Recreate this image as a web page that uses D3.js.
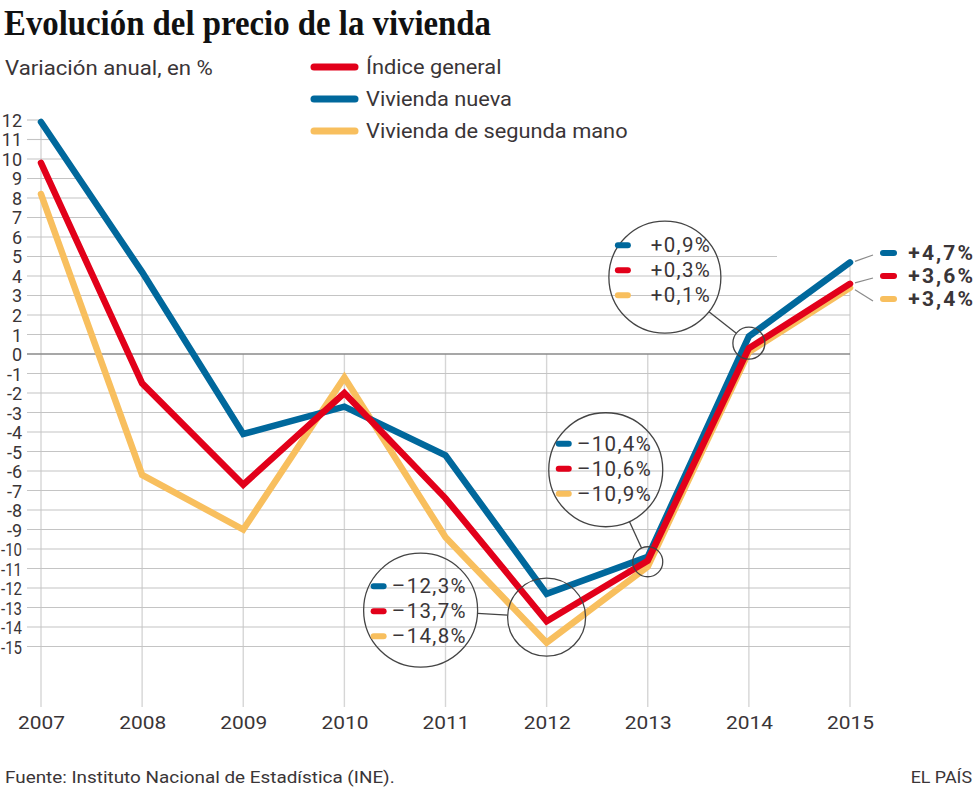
<!DOCTYPE html>
<html><head><meta charset="utf-8">
<script src="https://cdn.jsdelivr.net/npm/d3@7"></script>
<style>
html,body{margin:0;padding:0;background:#fff;}
svg{display:block;font-family:Roboto,"Noto Sans",sans-serif;}
</style></head>
<body>
<svg id="chart" width="980" height="795"></svg>
<script>
// ---------- DATA ----------
const years = [2007, 2008, 2009, 2010, 2011, 2012, 2013, 2014, 2015];
const indiceGeneral = [9.8, -1.5, -6.7, -2.0, -7.4, -13.7, -10.6, 0.3, 3.6];
const viviendaNueva = [11.9, 4.2, -4.1, -2.7, -5.2, -12.3, -10.4, 0.9, 4.7];
const segundaMano = [8.2, -6.2, -9.0, -1.2, -9.4, -14.8, -10.9, 0.1, 3.4];
const seriesNames = ["Índice general", "Vivienda nueva", "Vivienda de segunda mano"];
const yTickValues = [12, 11, 10, 9, 8, 7, 6, 5, 4, 3, 2, 1, 0, -1, -2, -3, -4, -5, -6, -7, -8, -9, -10, -11, -12, -13, -14, -15];
const calloutYears = [2012, 2013, 2014];
const calloutNueva = ["–12,3%", "–10,4%", "+0,9%"];
const calloutIndice = ["–13,7%", "–10,6%", "+0,3%"];
const calloutSegunda = ["–14,8%", "–10,9%", "+0,1%"];
const endLabels = ["+4,7%", "+3,6%", "+3,4%"];
const titleText = "Evolución del precio de la vivienda";
const subtitleText = "Variación anual, en %";
const sourceText = "Fuente: Instituto Nacional de Estadística (INE).";
const brandText = "EL PAÍS";

// ---------- STYLE ----------
const C = {blue: "#00689c", red: "#e2001a", yellow: "#f8bf5e", text: "#3a3537", grid: "#c4c4c4", vgrid: "#d6d6d6", zero: "#8a8a8a"};
const svg = d3.select("#chart");

const x = d3.scalePoint().domain(years).range([41, 850]);
const y = d3.scaleLinear().domain([-18.1, 12]).range([707, 120]);

function fit(sel, w) { sel.attr("textLength", w).attr("lengthAdjust", "spacingAndGlyphs"); return sel; }
function stretch(sel, k, maxW, mode) {
  sel.each(function () {
    let w = this.getComputedTextLength() * k;
    if (maxW && w > maxW) w = maxW;
    d3.select(this).attr("textLength", w).attr("lengthAdjust", mode || "spacingAndGlyphs");
  });
  return sel;
}

// title / subtitle
fit(svg.append("text").attr("x", 4).attr("y", 35).text(titleText)
  .attr("font-family", "'Liberation Serif', 'DejaVu Serif', serif").attr("font-weight", "bold")
  .attr("font-size", 35).attr("fill", "#111"), 487);
stretch(svg.append("text").attr("x", 5).attr("y", 75).text(subtitleText)
  .attr("font-size", 20).attr("fill", C.text), 1.11);

// legend
const legendSeries = [
  {name: seriesNames[0], color: C.red},
  {name: seriesNames[1], color: C.blue},
  {name: seriesNames[2], color: C.yellow}
];
const lg = svg.append("g");
legendSeries.forEach((s, i) => {
  const cy = 67 + i * 32;
  lg.append("line").attr("x1", 314).attr("x2", 355).attr("y1", cy).attr("y2", cy)
    .attr("stroke", s.color).attr("stroke-width", 7).attr("stroke-linecap", "round");
  stretch(lg.append("text").attr("x", 366).attr("y", cy + 7).text(s.name)
    .attr("font-size", 20).attr("fill", C.text), 1.09);
});

// ---------- GRID ----------
const grid = svg.append("g");
function blueCrossX(v) {
  const b0 = viviendaNueva[0], b1 = viviendaNueva[1];
  const x0 = x(years[0]), x1 = x(years[1]);
  return Math.max(27, x0 + (v - b0) / (b1 - b0) * (x1 - x0));
}
years.forEach((yr, i) => {
  let top;
  if (i === 0 || i === 1 || i === years.length - 1) top = y(viviendaNueva[i]);
  else top = y(0);
  grid.append("line").attr("x1", x(yr)).attr("x2", x(yr)).attr("y1", top).attr("y2", 707)
    .attr("stroke", C.vgrid).attr("stroke-width", 1.4);
});
yTickValues.forEach(v => {
  let x2 = 850;
  if (v >= 6) x2 = blueCrossX(v);
  else if (v === 5) x2 = 777;
  grid.append("line").attr("x1", 27).attr("x2", x2).attr("y1", y(v)).attr("y2", y(v))
    .attr("stroke", v === 0 ? C.zero : C.grid).attr("stroke-width", v === 0 ? 1.3 : 1.1);
});

// y axis labels
const yAxis = d3.axisLeft(y).tickValues(yTickValues).tickSize(0).tickPadding(0)
  .tickFormat(d => String(d));
svg.append("g").attr("transform", "translate(22,0)").call(yAxis)
  .call(g => g.select(".domain").remove())
  .call(g => g.selectAll("text").attr("font-size", 18).attr("fill", C.text)
    .attr("font-family", "Roboto, sans-serif").attr("dy", "0.36em"))
  .call(g => stretch(g.selectAll("text"), 1.0, 21));

// x axis labels
const xAxis = d3.axisBottom(x).tickSize(0).tickPadding(0).tickFormat(d => String(d));
svg.append("g").attr("transform", "translate(0,715)").call(xAxis)
  .call(g => g.select(".domain").remove())
  .call(g => g.selectAll("text").attr("font-size", 19).attr("fill", C.text)
    .attr("font-family", "Roboto, sans-serif").attr("dy", "0.71em"))
  .call(g => stretch(g.selectAll("text"), 1.1));

// ---------- LINES ----------
const line = d3.line().x((d, i) => x(years[i])).y(d => y(d));
const drawOrder = [
  {vals: segundaMano, color: C.yellow},
  {vals: viviendaNueva, color: C.blue},
  {vals: indiceGeneral, color: C.red}
];
drawOrder.forEach(s => {
  svg.append("path").datum(s.vals).attr("d", line).attr("fill", "none")
    .attr("stroke", s.color).attr("stroke-width", 6.5)
    .attr("stroke-linejoin", "miter").attr("stroke-linecap", "round");
});

// ---------- CALLOUTS ----------
const calloutGeom = [
  {sdy: -4, sr: 39, bdx: -126, bdy: -7, br: 57, rowDy: 1},
  {sdy: 1,  sr: 15, bdx: -42,  bdy: -92, br: 57, rowDy: -1},
  {sdy: -5, sr: 16, bdx: -84,  bdy: -66, br: 56, rowDy: -7}
];
const cg = svg.append("g");
calloutYears.forEach((yr, k) => {
  const i = years.indexOf(yr);
  const g = calloutGeom[k];
  const sx = x(yr), sy = y(indiceGeneral[i]) + g.sdy;
  const bx = sx + g.bdx, by = sy + g.bdy;
  const dx = sx - bx, dy = sy - by, L = Math.hypot(dx, dy), ux = dx / L, uy = dy / L;
  cg.append("circle").attr("cx", sx).attr("cy", sy).attr("r", g.sr)
    .attr("fill", "none").attr("stroke", "#444").attr("stroke-width", 1.3);
  cg.append("circle").attr("cx", bx).attr("cy", by).attr("r", g.br)
    .attr("fill", "none").attr("stroke", "#444").attr("stroke-width", 1.3);
  cg.append("line").attr("x1", bx + ux * g.br).attr("y1", by + uy * g.br)
    .attr("x2", sx - ux * g.sr).attr("y2", sy - uy * g.sr)
    .attr("stroke", "#444").attr("stroke-width", 1.3);
  const rows = [
    {t: calloutNueva[k], c: C.blue},
    {t: calloutIndice[k], c: C.red},
    {t: calloutSegunda[k], c: C.yellow}
  ];
  rows.forEach((r, j) => {
    const ry = by + g.rowDy + (j - 1) * 25;
    cg.append("line").attr("x1", bx - 47).attr("x2", bx - 37).attr("y1", ry).attr("y2", ry)
      .attr("stroke", r.c).attr("stroke-width", 6).attr("stroke-linecap", "round");
    stretch(cg.append("text").attr("x", bx + 45).attr("y", ry + 7).attr("text-anchor", "end")
      .text(r.t).attr("font-size", 20.5).attr("fill", C.text), 1.1, null, "spacing");
  });
});

// ---------- END LABELS ----------
const endSeries = [
  {v: viviendaNueva[8], c: C.blue},
  {v: indiceGeneral[8], c: C.red},
  {v: segundaMano[8], c: C.yellow}
];
const eg = svg.append("g");
endSeries.forEach((s, j) => {
  const ly = 253 + j * 23;
  const px = x(years[years.length - 1]);
  eg.append("line").attr("x1", px + 5).attr("y1", y(s.v) - (j === 2 ? -2 : 1))
    .attr("x2", 873).attr("y2", ly + 2)
    .attr("stroke", "#8a8a8a").attr("stroke-width", 1.2);
  eg.append("line").attr("x1", 883).attr("x2", 894).attr("y1", ly).attr("y2", ly)
    .attr("stroke", s.c).attr("stroke-width", 6).attr("stroke-linecap", "round");
  stretch(eg.append("text").attr("x", 973).attr("y", ly + 7).attr("text-anchor", "end")
    .text(endLabels[j]).attr("font-size", 21).attr("font-weight", "bold").attr("fill", C.text), 1.15, null, "spacing");
});

// ---------- FOOTER ----------
stretch(svg.append("text").attr("x", 5).attr("y", 783).text(sourceText)
  .attr("font-size", 17).attr("fill", C.text), 1.11);
stretch(svg.append("text").attr("x", 972).attr("y", 783).attr("text-anchor", "end").text(brandText)
  .attr("font-size", 17).attr("fill", C.text), 1.05);
</script>
</body></html>
